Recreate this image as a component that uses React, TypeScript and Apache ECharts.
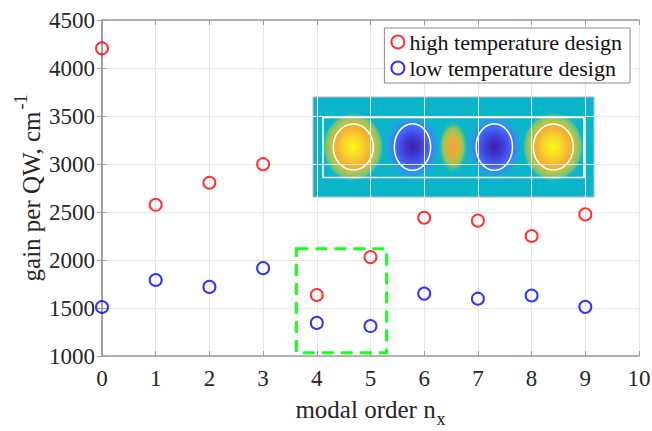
import React, { useEffect, useRef } from "react";
import * as echarts from "echarts";

const modalOrder = [0, 1, 2, 3, 4, 5, 6, 7, 8, 9];
const highTemp = [4205, 2575, 2805, 2998, 1635, 2030, 2440, 2410, 2250, 2475];
const lowTemp = [1510, 1792, 1720, 1915, 1345, 1312, 1650, 1597, 1630, 1512];
const xTicks = { min: 0, max: 10, interval: 1 };
const yTicks = { min: 1000, max: 4500, interval: 500 };
const highlightBox = { x0: 3.62, x1: 5.3, y0: 1035, y1: 2118 };

const FONT = "'Liberation Serif', 'Times New Roman', serif";
const AXIS_COLOR = "#9c9c9c";
const TEXT_COLOR = "#262626";

function lobe(cx: number, cy: number, rx: number, ry: number, stops: [number, string][]) {
  return {
    type: "ellipse",
    shape: { cx, cy, rx, ry },
    style: {
      fill: {
        type: "radial",
        x: 0.5,
        y: 0.5,
        r: 0.5,
        colorStops: stops.map(([offset, color]) => ({ offset, color })),
      },
    },
    silent: true,
  };
}

const yellowStops: [number, string][] = [
  [0, "#f8fa16"],
  [0.3, "#f9d52a"],
  [0.55, "#f6b035"],
  [0.75, "#b4c448"],
  [0.9, "#5fc48a"],
  [1, "rgba(10,181,201,0)"],
];
const blueStops: [number, string][] = [
  [0, "#3a22a0"],
  [0.3, "#3f3bd8"],
  [0.55, "#4560f2"],
  [0.75, "#2e92ea"],
  [0.9, "#18abd6"],
  [1, "rgba(10,181,201,0)"],
];
const midStops: [number, string][] = [
  [0, "#f4a43a"],
  [0.4, "#d9b440"],
  [0.7, "#8cc65c"],
  [1, "rgba(10,181,201,0)"],
];

function outline(cx: number, cy: number, rx: number, ry: number) {
  return {
    type: "ellipse",
    shape: { cx, cy, rx, ry },
    style: { fill: "none", stroke: "#ffffff", lineWidth: 1.5 },
    silent: true,
  };
}

export default function App() {
  const ref = useRef<HTMLDivElement>(null);

  useEffect(() => {
    if (!ref.current) return;
    const chart = echarts.init(ref.current, undefined, { renderer: "svg" });
    const cy = 147;
    const inset = {
      type: "group",
      z: 100,
      silent: true,
      children: [
        {
          type: "rect",
          shape: { x: 313, y: 97, width: 281, height: 100 },
          style: { fill: "#0ab5c9", stroke: "#b8b8b8", lineWidth: 1 },
        },
        lobe(353, cy, 31, 35, yellowStops),
        lobe(553, cy, 31, 35, yellowStops),
        lobe(412.5, cy, 29, 33, blueStops),
        lobe(494.5, cy, 29, 33, blueStops),
        lobe(453, cy, 15, 27, midStops),
        {
          type: "rect",
          shape: { x: 323, y: 117.5, width: 261, height: 60 },
          style: { fill: "none", stroke: "#ffffff", lineWidth: 1.6 },
        },
        outline(353.3, cy, 20, 23),
        outline(412.5, cy, 18.2, 23.3),
        outline(494.3, cy, 18.2, 23.3),
        outline(553.3, cy, 20, 23),
      ],
    };

    const axisCommon = {
      axisLine: { show: true, lineStyle: { color: AXIS_COLOR, width: 1.5 } },
      axisTick: { show: true, inside: true, length: 5, lineStyle: { color: AXIS_COLOR, width: 1 } },
    };
    const plain = (v: number) => String(v);

    chart.setOption({
      animation: false,
      backgroundColor: "#ffffff",
      grid: { left: 102, right: 13, top: 20, bottom: 75, containLabel: false, outerBoundsMode: "none" },
      legend: {
        orient: "vertical",
        right: 22,
        top: 28,
        padding: [3, 8, 4, 6],
        itemGap: 4,
        itemWidth: 13,
        itemHeight: 13,
        borderColor: "#8a8a8a",
        borderWidth: 1,
        backgroundColor: "#ffffff",
        icon: "circle",
        textStyle: { fontFamily: FONT, fontSize: 22, color: "#111" },
        data: ["high temperature design", "low temperature design"],
        z: 120,
      },
      xAxis: [
        {
          type: "value",
          ...xTicks,
          ...axisCommon,
          splitLine: { show: true, lineStyle: { color: "#e6e6e6", width: 1 } },
          axisLabel: { fontFamily: FONT, fontSize: 23, color: TEXT_COLOR, margin: 11, formatter: plain },
          name: "{a|modal order n}{sub|x}",
          nameLocation: "middle",
          nameGap: 34,
          nameMoveOverlap: false,
          nameTextStyle: {
            rich: {
              a: { fontFamily: FONT, fontSize: 25, color: TEXT_COLOR },
              sub: { fontFamily: FONT, fontSize: 18, color: TEXT_COLOR, padding: [20, 0, 0, 1] },
            },
          },
        },
        {
          type: "value",
          position: "top",
          ...xTicks,
          ...axisCommon,
          splitLine: { show: false },
          axisLabel: { show: false },
        },
      ],
      yAxis: [
        {
          type: "value",
          ...yTicks,
          ...axisCommon,
          splitLine: { show: true, lineStyle: { color: "#e6e6e6", width: 1 } },
          axisLabel: { fontFamily: FONT, fontSize: 23, color: TEXT_COLOR, margin: 7, formatter: plain },
          name: "{a|gain per QW, cm}{sup|-1}",
          nameLocation: "middle",
          nameGap: 52,
          nameMoveOverlap: false,
          nameTextStyle: {
            rich: {
              a: { fontFamily: FONT, fontSize: 25, color: TEXT_COLOR },
              sup: { fontFamily: FONT, fontSize: 18, color: TEXT_COLOR, padding: [0, 0, 20, 2] },
            },
          },
        },
        {
          type: "value",
          position: "right",
          ...yTicks,
          ...axisCommon,
          splitLine: { show: false },
          axisLabel: { show: false },
        },
      ],
      series: [
        {
          name: "high temperature design",
          type: "scatter",
          symbol: "circle",
          symbolSize: 12,
          itemStyle: { color: "rgba(255,255,255,0)", borderColor: "#ff0000", borderWidth: 2 },
          data: modalOrder.map((x, i) => [x, highTemp[i]]),
          z: 5,
        },
        {
          name: "low temperature design",
          type: "scatter",
          symbol: "circle",
          symbolSize: 12,
          itemStyle: { color: "rgba(255,255,255,0)", borderColor: "#0000ff", borderWidth: 2 },
          data: modalOrder.map((x, i) => [x, lowTemp[i]]),
          z: 5,
          markArea: {
            silent: true,
            itemStyle: {
              color: "rgba(0,0,0,0)",
              borderColor: "#1aff1a",
              borderWidth: 3,
              borderType: [12, 7],
            },
            data: [
              [
                { xAxis: highlightBox.x0, yAxis: highlightBox.y1 },
                { xAxis: highlightBox.x1, yAxis: highlightBox.y0 },
              ],
            ],
          },
        },
      ],
      graphic: [inset],
    });
    return () => chart.dispose();
  }, []);

  return (
    <div
      ref={ref}
      style={{ position: "fixed", left: 0, top: 0, width: 652, height: 431, background: "#fff" }}
    />
  );
}
